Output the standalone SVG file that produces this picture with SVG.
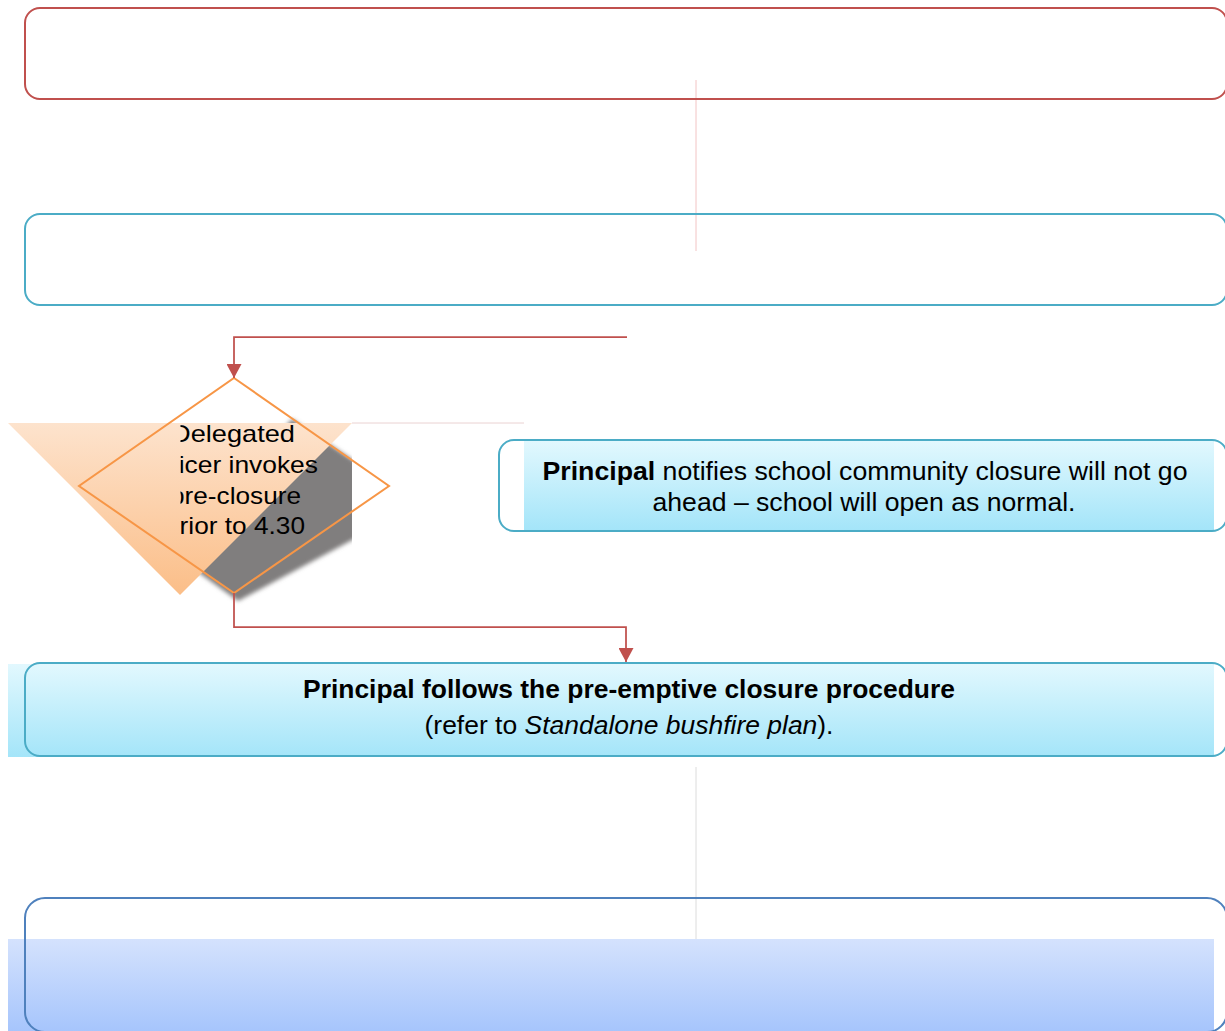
<svg xmlns="http://www.w3.org/2000/svg" width="1225" height="1031" viewBox="0 0 1225 1031">
<style>
.txt{font-family:"Liberation Sans",Arial,sans-serif;fill:#000;}
.conn{fill:none;stroke:#c0504d;stroke-width:1.75;}
.box{fill:none;stroke-width:2;}
</style>
<defs>
<linearGradient id="gCyan" x1="0" y1="0" x2="0" y2="1">
<stop offset="0" stop-color="#e2f8fe"/>
<stop offset="1" stop-color="#a4e5f9"/>
</linearGradient>
<linearGradient id="gBlue" x1="0" y1="0" x2="0" y2="1">
<stop offset="0" stop-color="#d4e2fd"/>
<stop offset="1" stop-color="#a6c5fc"/>
</linearGradient>
<linearGradient id="gOrange" x1="0" y1="0" x2="0" y2="1">
<stop offset="0" stop-color="#fde3cd"/>
<stop offset="1" stop-color="#fbbe88"/>
</linearGradient>
<filter id="blur" x="-10%" y="-10%" width="120%" height="120%">
<feGaussianBlur stdDeviation="2"/>
</filter>
<clipPath id="shadowClip"><rect x="0" y="400" width="352" height="210"/></clipPath>
<clipPath id="textClip"><rect x="180.5" y="400" width="220" height="160"/></clipPath>
<marker id="arrow" markerUnits="userSpaceOnUse" markerWidth="15" markerHeight="15" refX="14" refY="7.5" orient="auto">
<path d="M0,0 L14,7.5 L0,15 z" fill="#c0504d"/>
</marker>
</defs>

<!-- faint guide lines -->
<line x1="696" y1="80" x2="696" y2="251" stroke="#f2c4c4" stroke-width="1"/>
<line x1="696" y1="767" x2="696" y2="940" stroke="#dcdcdc" stroke-width="1"/>
<line x1="352" y1="423" x2="524" y2="423" stroke="#ead2d2" stroke-width="1"/>

<g id="node1">
<rect class="box" x="25" y="8" width="1202" height="91" rx="15" stroke="#c0504d"/>
</g>

<g id="node2">
<rect class="box" x="25" y="214" width="1202" height="91" rx="15" stroke="#4bacc6"/>
</g>

<g id="decision">
<g clip-path="url(#shadowClip)">
<polygon points="292,419 356,462 356,538 238,601 176,556" fill="#807e7e" filter="url(#blur)"/>
</g>
<polygon points="8,423 352,423 180,595" fill="url(#gOrange)"/>
<polygon points="234,378 389,486 234,593 79,486" fill="none" stroke="#f79646" stroke-width="2"/>
<g clip-path="url(#textClip)" class="txt" font-size="24" text-anchor="middle">
<text x="233" y="442" textLength="124" lengthAdjust="spacingAndGlyphs">Delegated</text>
<text x="231" y="472.5" textLength="174" lengthAdjust="spacingAndGlyphs">Officer invokes</text>
<text x="235.5" y="503.5" textLength="131" lengthAdjust="spacingAndGlyphs">pre-closure</text>
<text x="235" y="533.5" textLength="140" lengthAdjust="spacingAndGlyphs">prior to 4.30</text>
</g>
</g>

<g id="node3">
<rect x="524" y="441" width="690" height="89" fill="url(#gCyan)"/>
<rect class="box" x="499" y="440" width="728" height="91" rx="15" stroke="#4bacc6"/>
<text class="txt" x="865" y="479.5" font-size="25" text-anchor="middle" textLength="645" lengthAdjust="spacingAndGlyphs"><tspan font-weight="bold">Principal</tspan> notifies school community closure will not go</text>
<text class="txt" x="864" y="510.5" font-size="25" text-anchor="middle" textLength="423" lengthAdjust="spacingAndGlyphs">ahead – school will open as normal.</text>
</g>

<g id="node4">
<rect x="8" y="664" width="1206" height="93" fill="url(#gCyan)"/>
<rect class="box" x="25" y="663" width="1202" height="93" rx="15" stroke="#4bacc6"/>
<text class="txt" x="629" y="697.5" font-size="25" font-weight="bold" text-anchor="middle" textLength="652" lengthAdjust="spacingAndGlyphs">Principal follows the pre-emptive closure procedure</text>
<text class="txt" x="629" y="734" font-size="25" text-anchor="middle" textLength="409" lengthAdjust="spacingAndGlyphs">(refer to <tspan font-style="italic">Standalone bushfire plan</tspan>).</text>
</g>

<g id="node5">
<rect x="8" y="939" width="1206" height="92" fill="url(#gBlue)"/>
<rect class="box" x="25" y="898" width="1202" height="134" rx="20" stroke="#4f81bd"/>
</g>

<g id="connectors">
<polyline class="conn" points="627,337 234,337 234,378" marker-end="url(#arrow)"/>
<polyline class="conn" points="234,593 234,627 626,627 626,662" marker-end="url(#arrow)"/>
</g>
</svg>
